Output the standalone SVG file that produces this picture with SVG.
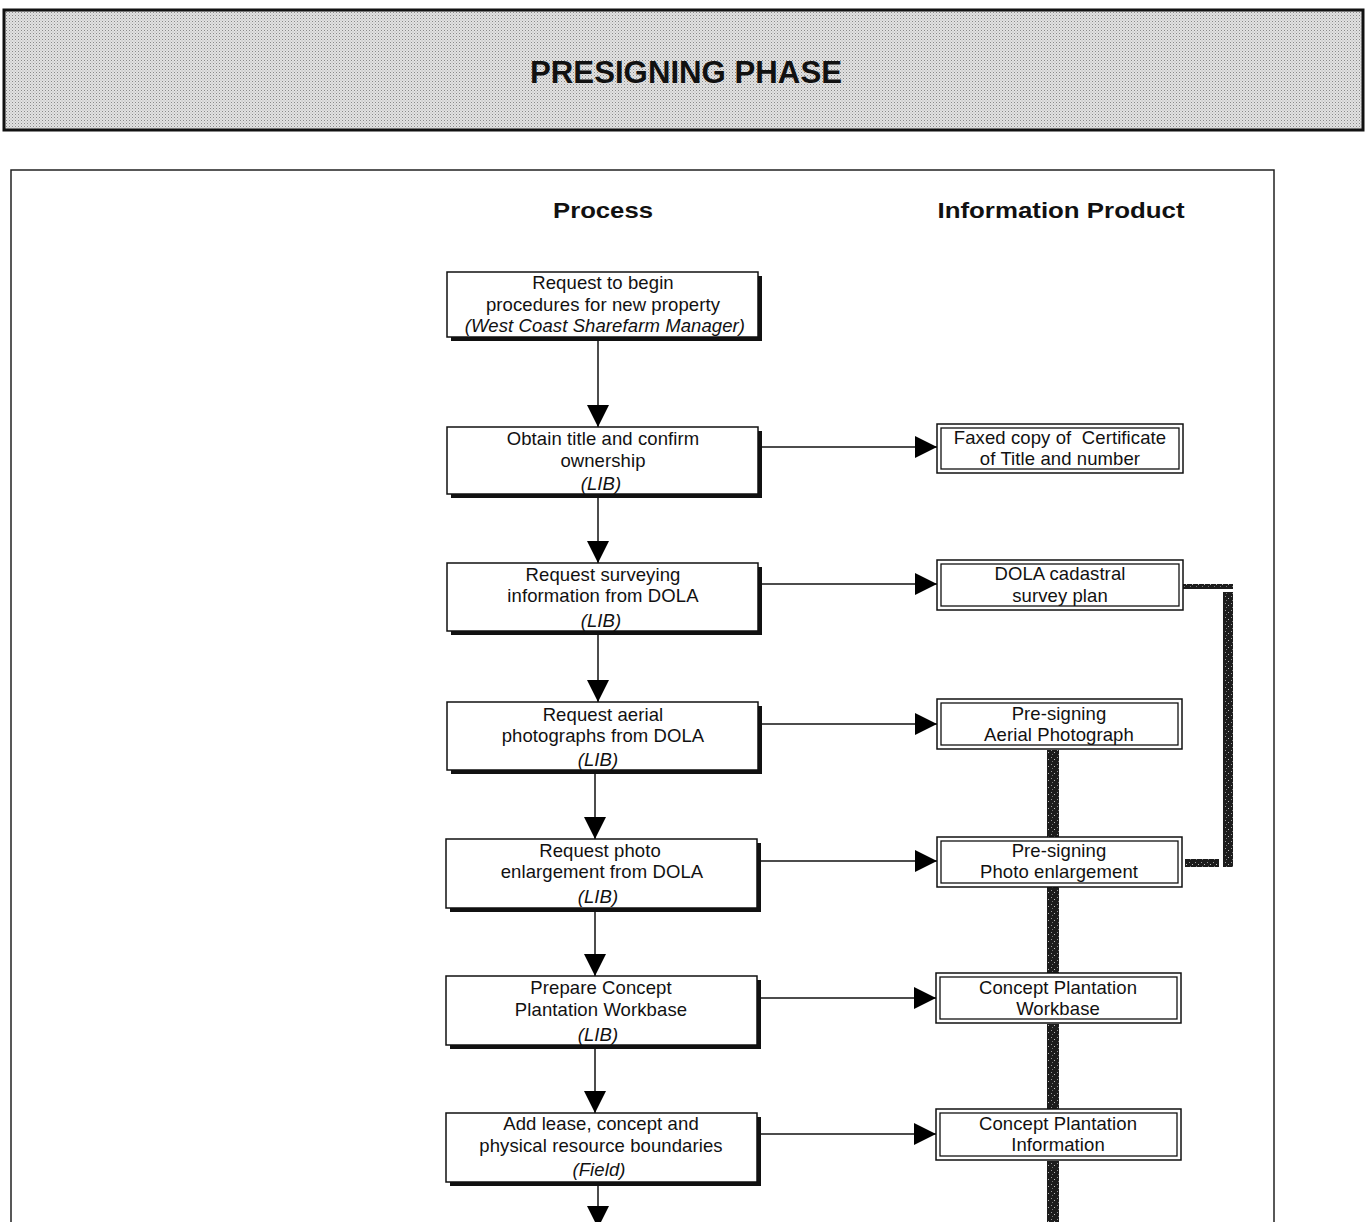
<svg xmlns="http://www.w3.org/2000/svg" width="1366" height="1222" viewBox="0 0 1366 1222">
<defs>
<pattern id="dots" width="3" height="3" patternUnits="userSpaceOnUse">
<rect width="3" height="3" fill="#e2e2e2"/>
<rect x="0" y="0" width="1" height="1" fill="#8a8a8a"/>
<rect x="1.5" y="1.5" width="1" height="1" fill="#b0b0b0"/>
</pattern>
<pattern id="tex" width="6" height="7" patternUnits="userSpaceOnUse">
<rect width="6" height="7" fill="#1c1c1c"/>
<rect x="1" y="1" width="1" height="1" fill="#9a9a9a"/>
<rect x="4" y="3" width="1" height="1" fill="#bbbbbb"/>
<rect x="2" y="5" width="1" height="1" fill="#777"/>
</pattern>
<marker id="ah" viewBox="0 0 22 22" refX="22" refY="11" markerWidth="22" markerHeight="22" markerUnits="userSpaceOnUse" orient="auto">
<path d="M0,0 L22,11 L0,22 Z" fill="#000"/>
</marker>
</defs>
<style>
.t{font-family:"Liberation Sans",Arial,sans-serif;font-size:18.5px;fill:#111;text-anchor:middle;letter-spacing:0.1px}
.i{font-style:italic}
.h{font-family:"Liberation Sans",Arial,sans-serif;font-weight:bold;fill:#111;text-anchor:middle}
.pb{fill:#fff;stroke:#111;stroke-width:1.5}
.sh{fill:#111}
.ob{fill:#fff;stroke:#111;stroke-width:1.5}
.ib{fill:none;stroke:#111;stroke-width:1.3}
.c{stroke:#111;stroke-width:1.5;fill:none;marker-end:url(#ah)}
.tx{fill:url(#tex)}
</style>
<rect width="1366" height="1222" fill="#fff"/>
<g id="header">
<rect x="4" y="10" width="1359" height="120" fill="url(#dots)" stroke="#111" stroke-width="3"/>
<text class="h" x="686" y="83" font-size="32" textLength="312" lengthAdjust="spacingAndGlyphs">PRESIGNING PHASE</text>
</g>
<g id="frame">
<rect x="11" y="170" width="1263" height="1070" fill="none" stroke="#222" stroke-width="1.5"/>
<text class="h" x="603" y="218" font-size="22" textLength="100" lengthAdjust="spacingAndGlyphs">Process</text>
<text class="h" x="1061" y="218" font-size="22" textLength="247" lengthAdjust="spacingAndGlyphs">Information Product</text>
</g>
<g id="connectors">
<line class="c" x1="598" y1="338" x2="598" y2="427"/>
<line class="c" x1="598" y1="495" x2="598" y2="563"/>
<line class="c" x1="598" y1="633" x2="598" y2="702"/>
<line class="c" x1="595" y1="771" x2="595" y2="839"/>
<line class="c" x1="595" y1="909" x2="595" y2="976"/>
<line class="c" x1="595" y1="1046" x2="595" y2="1113"/>
<line class="c" x1="598" y1="1182" x2="598" y2="1228"/>
<line class="c" x1="761" y1="447" x2="937" y2="447"/>
<line class="c" x1="761" y1="584" x2="937" y2="584"/>
<line class="c" x1="761" y1="724" x2="937" y2="724"/>
<line class="c" x1="760" y1="861" x2="937" y2="861"/>
<line class="c" x1="760" y1="998" x2="936" y2="998"/>
<line class="c" x1="760" y1="1134" x2="936" y2="1134"/>
<rect class="tx" x="1047" y="750" width="12" height="87"/>
<rect class="tx" x="1047" y="887" width="12" height="86"/>
<rect class="tx" x="1047" y="1024" width="12" height="85"/>
<rect class="tx" x="1047" y="1161" width="12" height="61"/>
<rect class="tx" x="1183" y="584" width="50" height="5"/>
<rect class="tx" x="1223" y="592" width="10" height="275"/>
<rect class="tx" x="1185" y="859" width="34" height="8"/>
</g>
<g id="p1">
<rect class="sh" x="451" y="276" width="311" height="65"/>
<rect class="pb" x="447" y="272" width="311" height="65"/>
<text class="t" x="603" y="289">Request to begin</text>
<text class="t" x="603" y="311">procedures for new property</text>
<text class="t i" x="605" y="332">(West Coast Sharefarm Manager)</text>
</g>
<g id="p2">
<rect class="sh" x="451" y="431" width="311" height="67"/>
<rect class="pb" x="447" y="427" width="311" height="67"/>
<text class="t" x="603" y="445">Obtain title and confirm</text>
<text class="t" x="603" y="467">ownership</text>
<text class="t i" x="601" y="490">(LIB)</text>
</g>
<g id="p3">
<rect class="sh" x="451" y="567" width="311" height="68"/>
<rect class="pb" x="447" y="563" width="311" height="68"/>
<text class="t" x="603" y="581">Request surveying</text>
<text class="t" x="603" y="602">information from DOLA</text>
<text class="t i" x="601" y="627">(LIB)</text>
</g>
<g id="p4">
<rect class="sh" x="451" y="706" width="311" height="68"/>
<rect class="pb" x="447" y="702" width="311" height="68"/>
<text class="t" x="603" y="721">Request aerial</text>
<text class="t" x="603" y="742">photographs from DOLA</text>
<text class="t i" x="598" y="766">(LIB)</text>
</g>
<g id="p5">
<rect class="sh" x="450" y="843" width="311" height="69"/>
<rect class="pb" x="446" y="839" width="311" height="69"/>
<text class="t" x="600" y="857">Request photo</text>
<text class="t" x="602" y="878">enlargement from DOLA</text>
<text class="t i" x="598" y="903">(LIB)</text>
</g>
<g id="p6">
<rect class="sh" x="450" y="980" width="311" height="69"/>
<rect class="pb" x="446" y="976" width="311" height="69"/>
<text class="t" x="601" y="994">Prepare Concept</text>
<text class="t" x="601" y="1016">Plantation Workbase</text>
<text class="t i" x="598" y="1041">(LIB)</text>
</g>
<g id="p7">
<rect class="sh" x="450" y="1117" width="311" height="69"/>
<rect class="pb" x="446" y="1113" width="311" height="69"/>
<text class="t" x="601" y="1130">Add lease, concept and</text>
<text class="t" x="601" y="1152">physical resource boundaries</text>
<text class="t i" x="599" y="1176">(Field)</text>
</g>
<g id="i1">
<rect class="ob" x="937" y="424" width="246" height="49"/>
<rect class="ib" x="941" y="428" width="238" height="41"/>
<text class="t" x="1060" y="444">Faxed copy of&#160; Certificate</text>
<text class="t" x="1060" y="465">of Title and number</text>
</g>
<g id="i2">
<rect class="ob" x="937" y="560" width="246" height="50"/>
<rect class="ib" x="941" y="564" width="238" height="42"/>
<text class="t" x="1060" y="580">DOLA cadastral</text>
<text class="t" x="1060" y="602">survey plan</text>
</g>
<g id="i3">
<rect class="ob" x="937" y="699" width="245" height="50"/>
<rect class="ib" x="941" y="703" width="237" height="42"/>
<text class="t" x="1059" y="720">Pre-signing</text>
<text class="t" x="1059" y="741">Aerial Photograph</text>
</g>
<g id="i4">
<rect class="ob" x="937" y="837" width="245" height="50"/>
<rect class="ib" x="941" y="841" width="237" height="42"/>
<text class="t" x="1059" y="857">Pre-signing</text>
<text class="t" x="1059" y="878">Photo enlargement</text>
</g>
<g id="i5">
<rect class="ob" x="936" y="973" width="245" height="50"/>
<rect class="ib" x="940" y="977" width="237" height="42"/>
<text class="t" x="1058" y="994">Concept Plantation</text>
<text class="t" x="1058" y="1015">Workbase</text>
</g>
<g id="i6">
<rect class="ob" x="936" y="1109" width="245" height="51"/>
<rect class="ib" x="940" y="1113" width="237" height="43"/>
<text class="t" x="1058" y="1130">Concept Plantation</text>
<text class="t" x="1058" y="1151">Information</text>
</g>
</svg>
